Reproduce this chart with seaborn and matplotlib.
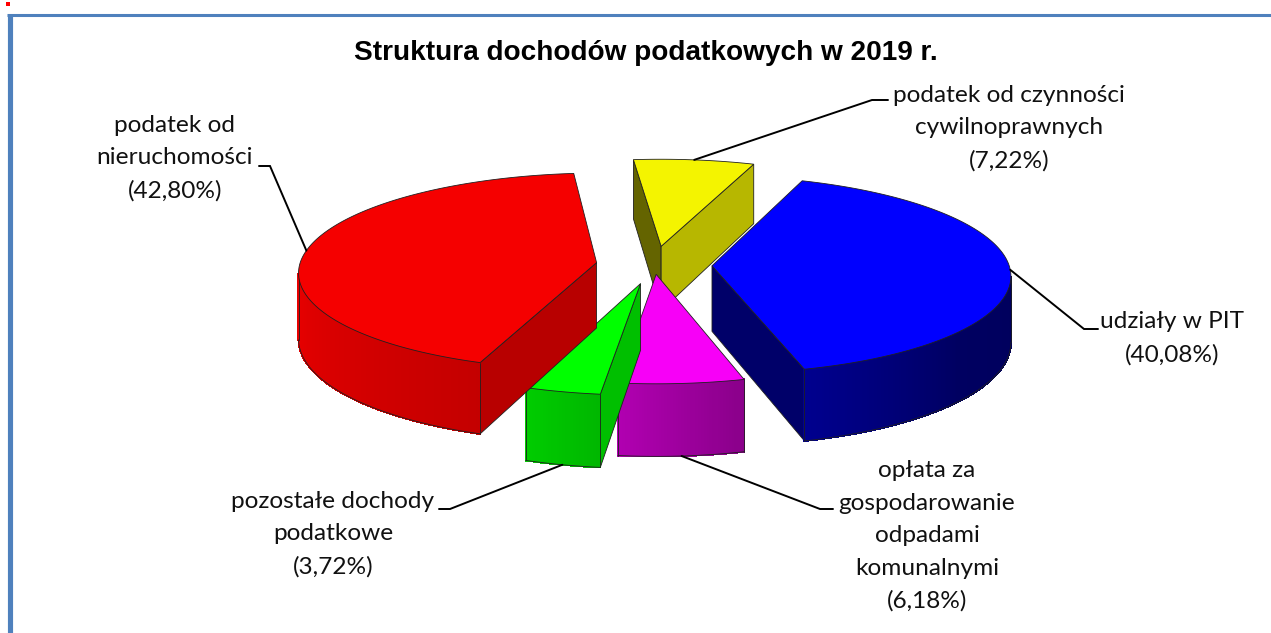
import numpy as np
import matplotlib
matplotlib.use('Agg')
import matplotlib.pyplot as plt
import seaborn as sns

title = 'Struktura dochodów podatkowych w 2019 r.'
names = ['podatek od czynności\ncywilnoprawnych', 'udziały w PIT',
         'opłata za\ngospodarowanie\nodpadami\nkomunalnymi',
         'pozostałe dochody\npodatkowe', 'podatek od\nnieruchomości']
shares = [7.22, 40.08, 6.18, 3.72, 42.80]

# look of the 3d pie, in pixels
top_colors = ['#F4F400', '#0000FF', '#F700F7', '#00FF00', '#F50000']
explode = [58, 58, 28, 57, 58]
start_angle = -5.8
radius = 297
depth = 65.5
squash = 0.33
persp = 0.0003
cx, cy = 654, 265
draw_order = [0, 4, 1, 3, 2]

# wall brightness against angle, clockwise from the back
wall_angle = [0, 90, 130, 165, 186, 200, 270, 360]
wall_shade = [0.6, 0.36, 0.38, 0.56, 0.71, 0.8, 0.96, 0.7]

# label centre and leader elbow and end
label_xy = [(1009, 128), (1172, 338), (927, 536), (333, 534), (175, 158)]
leader = [[(872, 100), (888, 100)], [(1084, 329), (1098, 329)], [(820, 509), (833, 509)],
          [(450, 509), (439, 509)], [(270, 166), (259, 166)]]

sns.set_theme(style='white')
plt.rcParams['font.family'] = ['Lato', 'DejaVu Sans']
palette = sns.color_palette(top_colors)

def project(i, theta, r, z):
    t = np.radians(theta)
    m = np.radians(mids[i])
    x = r * np.sin(t) + explode[i] * np.sin(m)
    v = r * np.cos(t) + explode[i] * np.cos(m)
    s = 1 / (1 + persp * v)
    return cx + x * s, cy - squash * v * s + z * s

def area(q):
    x = np.array([p[0] for p in q])
    y = np.array([p[1] for p in q])
    return 0.5 * np.sum(x * np.roll(y, -1) - np.roll(x, -1) * y)

def shaded(color, f):
    return tuple(min(1, c * f) for c in color)

edges = np.cumsum([0] + shares) / sum(shares) * 360 + start_angle
mids = (edges[:-1] + edges[1:]) / 2

fig = plt.figure(figsize=(12.71, 6.33), dpi=100)
ax = fig.add_axes([0, 0, 1, 1])
ax.set_xlim(0, 1271)
ax.set_ylim(633, 0)
ax.axis('off')

# frame and the stray dot in the corner
ax.plot([9.8, 9.8], [633, 14.5], color='#4F81BD', lw=3.7, solid_capstyle='butt')
ax.plot([7.3, 1271], [14.5, 14.5], color='#4F81BD', lw=2.2, solid_capstyle='butt')
ax.scatter([7.5], [4], s=9, marker='s', color='#FF0000', linewidths=0)

for i in draw_order:
    a, b = edges[i], edges[i + 1]
    color = palette[i]
    zo = 2 + i * 0.1
    thetas = np.linspace(a, b, int(b - a) * 2 + 2)

    # flat sides of the slice, lit from the right
    apex_top = project(i, 0, 0, 0)
    apex_bot = project(i, 0, 0, depth)
    for theta, sgn in [(a, -1), (b, 1)]:
        top = project(i, theta, radius, 0)
        bot = project(i, theta, radius, depth)
        q = [top, apex_top, apex_bot, bot] if sgn > 0 else [apex_top, top, bot, apex_bot]
        if area(q) < 0:
            f = 0.75 if sgn * np.cos(np.radians(theta)) > 0 else 0.41
            ax.fill(*zip(*q), facecolor=shaded(color, f), edgecolor='#202020', lw=0.6, zorder=zo)

    # round wall, one strip per step so the shade can change
    for t0, t1 in zip(thetas[:-1], thetas[1:]):
        q = [project(i, t0, radius, 0), project(i, t1, radius, 0),
             project(i, t1, radius, depth), project(i, t0, radius, depth)]
        if area(q) < 0:
            f = np.interp(((t0 + t1) / 2) % 360, wall_angle, wall_shade)
            c = shaded(color, f)
            ax.fill(*zip(*q), facecolor=c, edgecolor=c, lw=0.8, antialiased=False, zorder=zo)

    vis = [t for t in thetas if area([project(i, t, radius, 0), project(i, t + 0.1, radius, 0),
                                      project(i, t + 0.1, radius, depth), project(i, t, radius, depth)]) < 0]
    if vis:
        ax.plot(*zip(*[project(i, t, radius, depth) for t in vis]), color='#202020', lw=0.6, zorder=zo)
        for t in (vis[0], vis[-1]):
            ax.plot(*zip(project(i, t, radius, 0), project(i, t, radius, depth)), color='#202020', lw=0.6, zorder=zo)

    rim = [project(i, t, radius, 0) for t in thetas]
    ax.fill(*zip(*([apex_top] + rim)), facecolor=color, edgecolor='#202020', lw=0.6, zorder=zo)

ax.text(645.5, 53.5, title, fontsize=20.2, fontweight='bold', family='Liberation Sans',
        ha='center', va='center', color='black')

for i in range(len(shares)):
    text = '%s\n(%s%%)' % (names[i], ('%.2f' % shares[i]).replace('.', ','))
    ax.text(label_xy[i][0], label_xy[i][1], text, fontsize=17.6, ha='center', va='center',
            linespacing=1.68, color='#111111', zorder=5)
    # leader starts on the middle of the slice, under the rim for the front ones
    z = depth if 150 < mids[i] < 210 else 0
    start = project(i, mids[i], radius, z)
    ax.plot(*zip(start, *leader[i]), color='black', lw=1.4, zorder=4, solid_joinstyle='miter')

fig.savefig('out.png', dpi=100)
